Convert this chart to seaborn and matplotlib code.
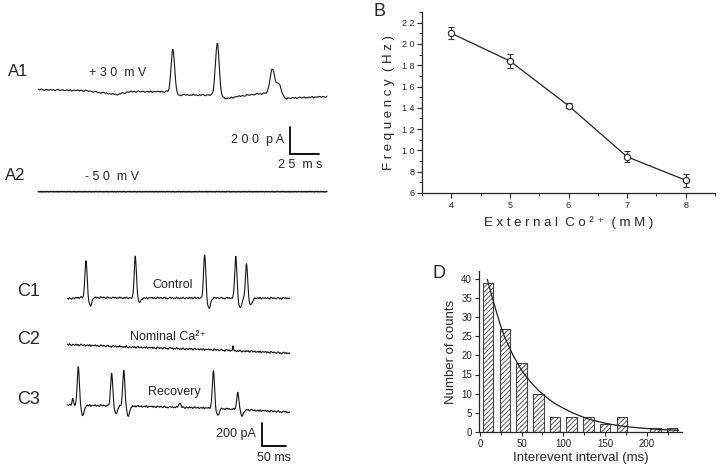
import numpy as np
import matplotlib
matplotlib.use("Agg")
import matplotlib.pyplot as plt
from matplotlib.ticker import MultipleLocator
import seaborn as sns

# ---------------- data ----------------
# Panel B: frequency vs external Co2+
b_conc = [4, 5, 6, 7, 8]
b_freq = [21.0, 18.4, 14.2, 9.4, 7.2]
b_err = [0.55, 0.7, 0.25, 0.5, 0.6]
b_xticks = [4, 5, 6, 7, 8]
b_yticks = [6, 8, 10, 12, 14, 16, 18, 20, 22]

# Panel D: interevent interval histogram + exponential fit
d_bin_centers = [10, 30, 50, 70, 90, 110, 130, 150, 170, 190, 210, 230]
d_counts = [39, 27, 18, 10, 4, 4, 4, 2, 4, 0, 1, 1]
d_fit_x = [9, 15, 20, 25, 30, 40, 50, 60, 70, 80, 90, 100, 110, 120, 130,
           140, 150, 165, 180, 200, 220, 238]
d_fit_y = [39.8, 35.0, 31.2, 27.6, 24.6, 19.9, 16.1, 13.2, 10.9, 9.0, 7.4,
           6.2, 5.1, 4.2, 3.4, 2.8, 2.3, 1.7, 1.3, 0.9, 0.6, 0.45]
d_xticks = [0, 50, 100, 150, 200]
d_yticks = [0, 5, 10, 15, 20, 25, 30, 35, 40]

# Current traces: baseline anchors (ms, pA) and events (ms, pA)
a1_base_t = [0, 40, 67, 78, 110, 120, 150, 161, 172, 192, 212, 247]
a1_base_v = [3, -5, -33, -12, -12, -36, -36, -62, -45, -24, -60, -48]
a1_spk_t = [115, 153, 200, 205.5]
a1_spk_a = [321, 382, 190, 95]
a1_spk_sd = [1.5, 1.6, 2.0, 2.0]

a2_base_t = [0, 247]
a2_base_v = [0, 0]

c1_base_t = [0, 30, 150, 300, 457]
c1_base_v = [-5, 5, 0, 0, -2]
c1_spk_t = [38.4, 139.6, 282, 346, 368]
c1_spk_a = [320, 360, 377, 360, 292]
c1_und_a = [-70, -35, -90, -85, -60]

c2_base_t = [0, 150, 300, 457]
c2_base_v = [0, -25, -45, -75]
c2_spk_t = [340]
c2_spk_a = [38]
c2_und_a = [0]

c3_base_t = [0, 150, 300, 457]
c3_base_v = [0, -12, -27, -62]
c3_spk_t = [11, 22.6, 91, 116, 231, 300, 350]
c3_spk_a = [55, 330, 283, 306, 40, 323, 146]
c3_und_a = [0, -86, -65, -80, 0, -60, -50]

# hand-typed jitter (noise shape) used for the baseline noise
JITTER = [0.3, -0.5, 0.8, -0.2, -0.9, 0.4, 0.1, -0.6, 0.7, -0.3, 0.5, -0.8,
          0.2, 0.9, -0.4, -0.1, 0.6, -0.7, 0.0, 0.4, -0.5, 0.8, -0.9, 0.3,
          0.1, -0.2, 0.7, -0.6, 0.5, -0.3, -0.8, 0.9, 0.2, -0.4, 0.6, -0.1,
          -0.7, 0.4, 0.8, -0.5, 0.0, -0.9, 0.3, 0.7, -0.2, 0.5, -0.6, 0.1,
          -0.4, 0.9, -0.3, 0.2, -0.8]


def build_trace(t_end, base_t, base_v, spk_t, spk_a, spk_sd=None, und_a=None,
                noise=6.0, noise_step=2.0, offset=0.0, und_lag=9.0, und_sd=3.0):
    t = np.arange(0.0, t_end, 0.25)
    v = np.interp(t, base_t, base_v) + offset
    if spk_sd is None:
        spk_sd = [2.2] * len(spk_t)
    if und_a is None:
        und_a = [0] * len(spk_t)
    for ts, a, sd, ua in zip(spk_t, spk_a, spk_sd, und_a):
        v = v + a * np.exp(-0.5 * ((t - ts) / sd) ** 2)
        v = v + ua * np.exp(-0.5 * ((t - ts - und_lag) / und_sd) ** 2)
    nt = np.arange(0.0, t_end + noise_step, noise_step)
    nv = np.resize(np.array(JITTER), nt.size)
    v = v + noise * np.interp(t, nt, nv)
    return t, v


# ---------------- figure ----------------
W, H = 720, 468
sns.set_style("ticks")
plt.rcParams["font.family"] = ["Liberation Sans", "DejaVu Sans"]
plt.rcParams["hatch.linewidth"] = 0.6
fig = plt.figure(figsize=(W / 100, H / 100), dpi=100)


def px_axes(x0, y0, x1, y1):
    return fig.add_axes([x0 / W, 1 - y1 / H, (x1 - x0) / W, (y1 - y0) / H])


def ftext(x, y, s, **kw):
    fig.text(x / W, 1 - y / H, s, **kw)


def spaced(s):
    return " ".join(s)


TRACE_COLOR = "#151515"

# ---- Panel A traces (1.17 px/ms, 7.25 pA/px; origin at px (38.3, 90))
axA = px_axes(0, 30, 360, 200)
A_PXMS, A_PAPX, A_X0, A_Y0 = 1.17, 7.25, 38.3, 90
axA.set_xlim((0 - A_X0) / A_PXMS, (360 - A_X0) / A_PXMS)
axA.set_ylim((A_Y0 - 200) * A_PAPX, (A_Y0 - 30) * A_PAPX)
axA.axis("off")
t, v = build_trace(247, a1_base_t, a1_base_v, a1_spk_t, a1_spk_a, a1_spk_sd,
                   noise=6.5, noise_step=1.3)
sns.lineplot(x=t, y=v, ax=axA, color=TRACE_COLOR, lw=0.8, estimator=None, sort=False)
t, v = build_trace(247, a2_base_t, a2_base_v, [], [], noise=2.5,
                   noise_step=0.8, offset=(A_Y0 - 191.7) * A_PAPX)
sns.lineplot(x=t, y=v, ax=axA, color=TRACE_COLOR, lw=1.1, estimator=None, sort=False)
# scale bar 200 pA / 25 ms
sbx, sby = (290 - A_X0) / A_PXMS, (A_Y0 - 154.3) * A_PAPX
axA.plot([sbx, sbx, sbx + 25], [sby + 200, sby, sby], color="black", lw=1.3,
         solid_joinstyle="miter")

ftext(8, 71, "A1", fontsize=12, ha="left", va="center")
ftext(89, 73, spaced("+30") + "  " + spaced("mV"), fontsize=9, ha="left", va="center")
ftext(5, 176, "A2", fontsize=12, ha="left", va="center")
ftext(85, 177, spaced("-50") + "  " + spaced("mV"), fontsize=9, ha="left", va="center")
ftext(284, 140, spaced("200") + "  " + spaced("pA"), fontsize=9, ha="right", va="center")
ftext(300, 165, spaced("25") + "  " + spaced("ms"), fontsize=9, ha="center", va="center")

# ---- Panel C traces (0.487 px/ms, 8.58 pA/px; origin at px (67.3, 298))
axC = px_axes(0, 250, 360, 468)
C_PXMS, C_PAPX, C_X0, C_Y0 = 0.487, 8.58, 67.3, 298
axC.set_xlim((0 - C_X0) / C_PXMS, (360 - C_X0) / C_PXMS)
axC.set_ylim((C_Y0 - 468) * C_PAPX, (C_Y0 - 250) * C_PAPX)
axC.axis("off")
t, v = build_trace(457, c1_base_t, c1_base_v, c1_spk_t, c1_spk_a, None, c1_und_a,
                   noise=9.0, noise_step=2.2)
sns.lineplot(x=t, y=v, ax=axC, color=TRACE_COLOR, lw=0.8, estimator=None, sort=False)
t, v = build_trace(457, c2_base_t, c2_base_v, c2_spk_t, c2_spk_a, [0.8], c2_und_a,
                   noise=10.0, noise_step=2.2, offset=(C_Y0 - 344.5) * C_PAPX)
sns.lineplot(x=t, y=v, ax=axC, color=TRACE_COLOR, lw=0.8, estimator=None, sort=False)
t, v = build_trace(457, c3_base_t, c3_base_v, c3_spk_t, c3_spk_a,
                   [1.5, 2.2, 2.2, 2.2, 2.0, 2.2, 2.2], c3_und_a,
                   noise=9.0, noise_step=2.2, offset=(C_Y0 - 405) * C_PAPX)
sns.lineplot(x=t, y=v, ax=axC, color=TRACE_COLOR, lw=0.8, estimator=None, sort=False)
# scale bar 200 pA / 50 ms
sbx, sby = (262 - C_X0) / C_PXMS, (C_Y0 - 446) * C_PAPX
axC.plot([sbx, sbx, sbx + 50], [sby + 200, sby, sby], color="black", lw=1.3,
         solid_joinstyle="miter")

ftext(17, 292, "C1", fontsize=13, ha="left", va="center")
ftext(17, 339, "C2", fontsize=13, ha="left", va="center")
ftext(17, 399, "C3", fontsize=13, ha="left", va="center")
ftext(173, 285, "Control", fontsize=9, ha="center", va="center")
ftext(168, 337, "Nominal Ca²⁺", fontsize=9, ha="center", va="center")
ftext(174, 392, "Recovery", fontsize=9, ha="center", va="center")
ftext(256, 434, "200 pA", fontsize=9, ha="right", va="center")
ftext(274, 458, "50 ms", fontsize=9, ha="center", va="center")

# ---- Panel B
axB = px_axes(422, 12, 715, 193)
axB.errorbar(b_conc, b_freq, yerr=b_err, fmt="none", ecolor="#333333",
             elinewidth=0.8, capsize=2.5, capthick=0.8, zorder=2)
sns.lineplot(x=b_conc, y=b_freq, ax=axB, color="#222222", lw=0.9, marker="o",
             markersize=4.5, markerfacecolor="white", markeredgecolor="#222222",
             markeredgewidth=0.8, zorder=3)
axB.set_xlim(3.5, 8.5)
axB.set_ylim(6, 23)
axB.set_xticks(b_xticks)
axB.set_yticks(b_yticks)
axB.set_xticklabels([spaced(str(x)) for x in b_xticks])
axB.set_yticklabels([spaced(str(y)) for y in b_yticks])
axB.xaxis.set_minor_locator(MultipleLocator(0.5))
axB.yaxis.set_minor_locator(MultipleLocator(1))
axB.tick_params(which="major", labelsize=6.5, length=3.5, width=0.8, pad=2)
axB.tick_params(which="minor", length=2, width=0.7)
sns.despine(ax=axB)
for s in ["left", "bottom"]:
    axB.spines[s].set_linewidth(0.9)
axB.set_xlabel(spaced("External") + "  " + spaced("Co²⁺") + "  " + spaced("(mM)"),
               fontsize=9.5, labelpad=5)
axB.set_ylabel(spaced("Frequency") + "  " + spaced("(Hz)"), fontsize=9.5, labelpad=5)
ftext(373, 11, "B", fontsize=13, ha="left", va="center")

# ---- Panel D
axD = px_axes(479, 271, 682, 432)
sns.barplot(x=d_bin_centers, y=d_counts, ax=axD, native_scale=True, width=0.63,
            color="white", edgecolor="#444444", linewidth=0.8, hatch="///////",
            saturation=1, zorder=2)
sns.lineplot(x=d_fit_x, y=d_fit_y, ax=axD, color="#222222", lw=0.9, zorder=3)
axD.set_xlim(-1, 242)
axD.set_ylim(0, 42)
axD.set_xticks(d_xticks)
axD.set_yticks(d_yticks)
axD.xaxis.set_minor_locator(MultipleLocator(25))
axD.tick_params(which="major", labelsize=7, length=3, width=0.8, pad=2)
axD.tick_params(which="minor", length=1.8, width=0.7)
sns.despine(ax=axD)
for s in ["left", "bottom"]:
    axD.spines[s].set_linewidth(0.9)
axD.set_xlabel("Interevent interval (ms)", fontsize=9.5, labelpad=2)
axD.set_ylabel("Number of counts", fontsize=9.5, labelpad=3)
ftext(432, 273, "D", fontsize=13, ha="left", va="center")

fig.savefig("out.png", dpi=100)
